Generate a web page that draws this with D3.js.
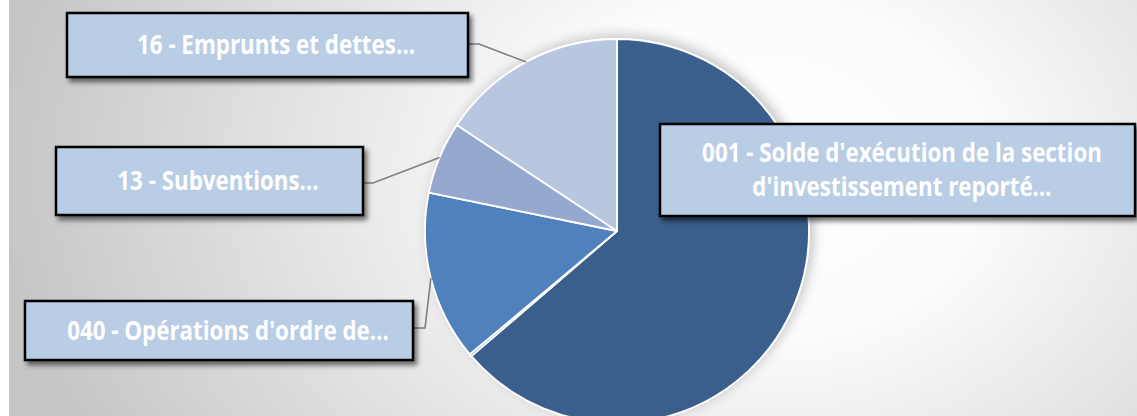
<!DOCTYPE html>
<html>
<head>
<meta charset="utf-8">
<script src="https://cdn.jsdelivr.net/npm/d3@7"></script>
<style>
  html, body { margin: 0; padding: 0; background: #fff; }
  svg { display: block; }
  .lbl { font-family: "Open Sans", "Liberation Sans", sans-serif; font-weight: 700; font-size: 26px; fill: #fff; }
</style>
</head>
<body>
<svg id="chart" width="1137" height="416"></svg>
<script>
// Pie: share of each chapter (percent of total)
const categories = [
    "001 - Solde d'exécution de la section d'investissement reporté…",
    "Autres",
    "040 - Opérations d'ordre de…",
    "13 - Subventions…",
    "16 - Emprunts et dettes…"
];
const values = [63.7, 0.2, 14.3, 6.1, 15.7];
const colors = ["#3b5f8d", "#4a77ae", "#4f81bd", "#95a9cf", "#b9c6df"];
// label lines as they are wrapped in the boxes ([] = no label)
const labelLines = [
    ["001 - Solde d'exécution de la section", "d'investissement reporté…"],
    [],
    ["040 - Opérations d'ordre de…"],
    ["13 - Subventions…"],
    ["16 - Emprunts et dettes…"]
];

const svg = d3.select('#chart');
const width = +svg.attr('width');
const height = +svg.attr('height');

const cx = 617, cy = 231, r = 192;

// label box layout (x, y, w, h, where the leader leaves the box)
const boxes = [
    { x: 660, y: 124, w: 475, h: 92, tx: 902 },
    null,
    { x: 25, y: 301, w: 388, h: 59, tx: 228, elbow: [425, 328] },
    { x: 56, y: 147, w: 307, h: 68, tx: 218, elbow: [373, 183] },
    { x: 67, y: 13, w: 401, h: 64, tx: 276, elbow: [479, 44] }
];

const defs = svg.append('defs');
const bg = defs.append('radialGradient')
    .attr('id', 'bg')
    .attr('gradientUnits', 'userSpaceOnUse')
    .attr('cx', 760).attr('cy', 170).attr('r', 760)
    .attr('gradientTransform', 'translate(760,170) scale(1,0.75) translate(-760,-170)');
bg.append('stop').attr('offset', 0).attr('stop-color', '#ffffff');
bg.append('stop').attr('offset', 0.3).attr('stop-color', '#fbfbfb');
bg.append('stop').attr('offset', 1).attr('stop-color', '#c6c6c6');

const pieShadow = defs.append('filter').attr('id', 'pieShadow')
    .attr('x', '-20%').attr('y', '-20%').attr('width', '140%').attr('height', '140%');
pieShadow.append('feDropShadow')
    .attr('dx', 4).attr('dy', -3).attr('stdDeviation', 6)
    .attr('flood-color', '#000').attr('flood-opacity', 0.22);

const boxShadow = defs.append('filter').attr('id', 'boxShadow')
    .attr('x', '-10%').attr('y', '-20%').attr('width', '120%').attr('height', '150%');
boxShadow.append('feDropShadow')
    .attr('dx', 3).attr('dy', 4).attr('stdDeviation', 2.5)
    .attr('flood-color', '#000').attr('flood-opacity', 0.55);

// background (white strip on the far left as in the picture)
svg.append('rect').attr('x', 0).attr('y', 0).attr('width', width).attr('height', height).attr('fill', '#fff');
svg.append('rect').attr('x', 9).attr('y', 0).attr('width', width - 9).attr('height', height).attr('fill', 'url(#bg)');

const pie = d3.pie().sort(null).value(d => d);
const arcs = pie(values);
const arc = d3.arc().innerRadius(0).outerRadius(r);

const g = svg.append('g').attr('transform', `translate(${cx},${cy})`);
g.append('g').attr('filter', 'url(#pieShadow)')
    .selectAll('path')
    .data(arcs)
    .enter()
    .append('path')
    .attr('d', arc)
    .attr('fill', (d, i) => colors[i])
    .attr('stroke', '#fff')
    .attr('stroke-width', 1.8)
    .attr('stroke-linejoin', 'round');

// leader lines: box edge -> elbow -> slice midpoint on the rim
const rim = d3.arc().innerRadius(r).outerRadius(r);
arcs.forEach((d, i) => {
    const b = boxes[i];
    if (!b || !b.elbow) return;
    const p = rim.centroid(d);
    const end = [cx + p[0], cy + p[1]];
    const start = [b.x + b.w, b.elbow[1]];
    svg.append('path')
        .attr('d', d3.line()([start, b.elbow, end]))
        .attr('fill', 'none')
        .attr('stroke', '#7f7f7f')
        .attr('stroke-width', 1.6);
});

// label boxes (text squeezed horizontally to look like a narrow bold face)
const hScale = 0.86;
arcs.forEach((d, i) => {
    const b = boxes[i];
    if (!b) return;
    svg.append('rect')
        .attr('x', b.x).attr('y', b.y)
        .attr('width', b.w).attr('height', b.h)
        .attr('fill', '#b9cde5')
        .attr('stroke', '#000')
        .attr('stroke-width', 2.5)
        .attr('filter', 'url(#boxShadow)');
    const lines = labelLines[i];
    const lh = 34;
    const top = b.y + b.h / 2 - (lines.length - 1) * lh / 2 + 9;
    lines.forEach((t, k) => {
        svg.append('g')
            .attr('transform', `translate(${b.tx},${top + k * lh}) scale(${hScale},1)`)
            .append('text')
            .attr('class', 'lbl')
            .attr('x', 0)
            .attr('y', 0)
            .attr('text-anchor', 'middle')
            .text(t);
    });
});
</script>
</body>
</html>
